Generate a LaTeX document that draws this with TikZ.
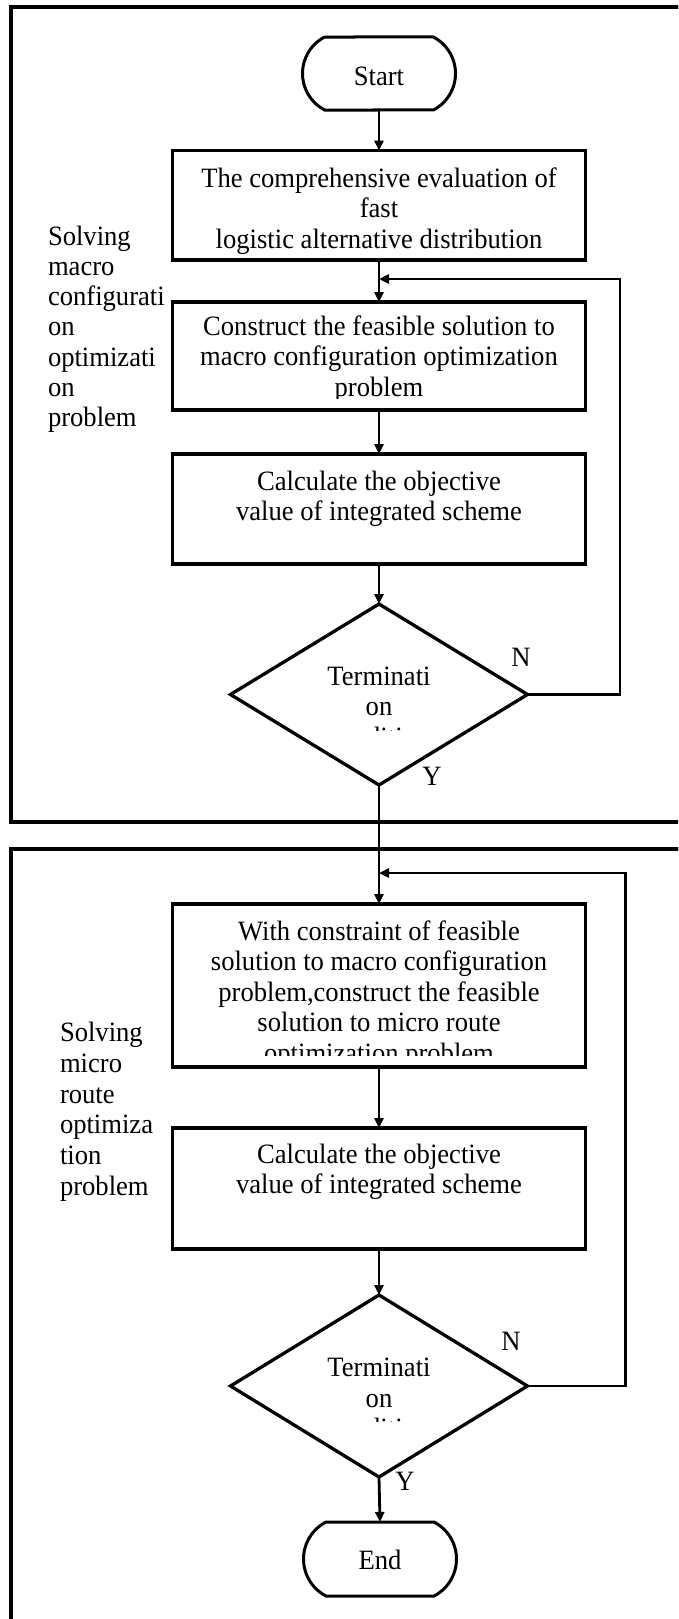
\documentclass[tikz,border=0pt]{standalone}
\usepackage{fontspec}
\setmainfont{Liberation Serif}[FakeStretch=0.95]
\usetikzlibrary{arrows.meta,shapes.geometric,shapes.misc}
\newcommand\fst{\rule{0pt}{20pt}}
\begin{document}
\begin{tikzpicture}[x=1pt,y=-1pt,
  every node/.style={inner sep=0pt,outer sep=0pt},
  txt/.style={font=\fontsize{28}{30.5}\selectfont, align=center, anchor=north},
  lbl/.style={font=\fontsize{28}{30.4}\selectfont, align=left, anchor=north west},
  yn/.style={font=\fontsize{28}{30.5}\selectfont, anchor=base},
  procbox/.style={draw, rectangle, line width=3.3pt, minimum width=413pt},
  termbox/.style={draw, rounded rectangle, rounded rectangle arc length=125, line width=3pt, minimum width=153pt, minimum height=73pt},
  decbox/.style={draw, diamond, line width=3.3pt, minimum width=297pt, minimum height=181pt},
  conn/.style={line width=2.8pt, line join=miter, -{Triangle[length=10pt,width=9pt]}},
  frame/.style={line width=3.5pt}]
\useasboundingbox (0,0) rectangle (678,1619);
\clip (0,0) rectangle (678,1619);
\fill[white] (0,0) rectangle (678,1619);

% outer frames
\draw[frame] (11,7) rectangle (700,822);
\draw[frame] (11,849) rectangle (700,1650);

% shapes
\node[termbox] (start) at (379,73.5) {};
\node[procbox, minimum height=109.5pt] (b1) at (379,205.3) {};
\node[procbox, minimum height=108pt] (b2) at (379,356) {};
\node[procbox, minimum height=110pt] (b3) at (379,509) {};
\node[decbox] (d1) at (379,694.5) {};
\node[procbox, minimum height=163pt] (b4) at (379,985.5) {};
\node[procbox, minimum height=121pt] (b5) at (379,1188.5) {};
\node[decbox, minimum height=182pt] (d2) at (379,1386) {};
\node[termbox, minimum height=74pt] (end) at (380,1559) {};

% texts
\node[txt] (tstart) at (379,65) {\fst Start};
\node[txt] (t1) at (379,167) {\fst The comprehensive evaluation of\\fast\\logistic alternative distribution};
\begin{scope}
  \clip (150,300) rectangle (600,398.5);
  \node[txt] (t2) at (379,315) {\fst Construct the feasible solution to\\macro configuration optimization\\problem};
\end{scope}
\node[txt] (t3) at (379,470) {\fst Calculate the objective\\value of integrated scheme};
\begin{scope}
  \clip (230,600) rectangle (530,730);
  \node[txt] (td1) at (379,665) {\fst Terminati\\on\\condition};
\end{scope}
\begin{scope}
  \clip (150,900) rectangle (600,1055);
  \node[txt, font=\fontsize{28}{30.6}\selectfont] (t4) at (379,920) {\fst With constraint of feasible\\solution to macro configuration\\problem,construct the feasible\\solution to micro route\\optimization problem};
\end{scope}
\node[txt] (t5) at (379,1143.3) {\fst Calculate the objective\\value of integrated scheme};
\begin{scope}
  \clip (230,1290) rectangle (530,1421.3);
  \node[txt] (td2) at (379,1356.7) {\fst Terminati\\on\\condition};
\end{scope}
\node[txt] (tend) at (380,1549.5) {\fst End};

% Y / N labels
\node[yn] (n1) at (521,666.7) {N};
\node[yn] (y1) at (432,785.7) {Y};
\node[yn] (n2) at (511,1350) {N};
\node[yn] (y2) at (405,1490) {Y};

% side labels
\node[lbl, font=\fontsize{28}{30.3}\selectfont] (l1) at (48,225) {\fst Solving\\macro\\configurati\\on\\optimizati\\on\\problem};
\node[lbl, font=\fontsize{28}{30.7}\selectfont] (l2) at (60,1021.7) {\fst Solving\\micro\\route\\optimiza\\tion\\problem};

% connectors
\coordinate (fb1) at (620,279);
\coordinate (fb2) at (625.5,873);
\draw[conn] (start.south) -- (b1.north);
\draw[conn] (b1.south) -- (b2.north);
\draw[conn] (b2.south) -- (b3.north);
\draw[conn] (b3.south) -- (d1.north);
\draw[conn] (d1.east) -| (fb1) -- (fb1 -| b2.north);
\draw[conn] (d1.south) -- (b4.north);
\draw[conn] (b4.south) -- (b5.north);
\draw[conn] (b5.south) -- (d2.north);
\draw[conn] (d2.east) -| (fb2) -- (fb2 -| b4.north);
\draw[conn] (d2.south) -- (end.north);
\end{tikzpicture}
\end{document}
